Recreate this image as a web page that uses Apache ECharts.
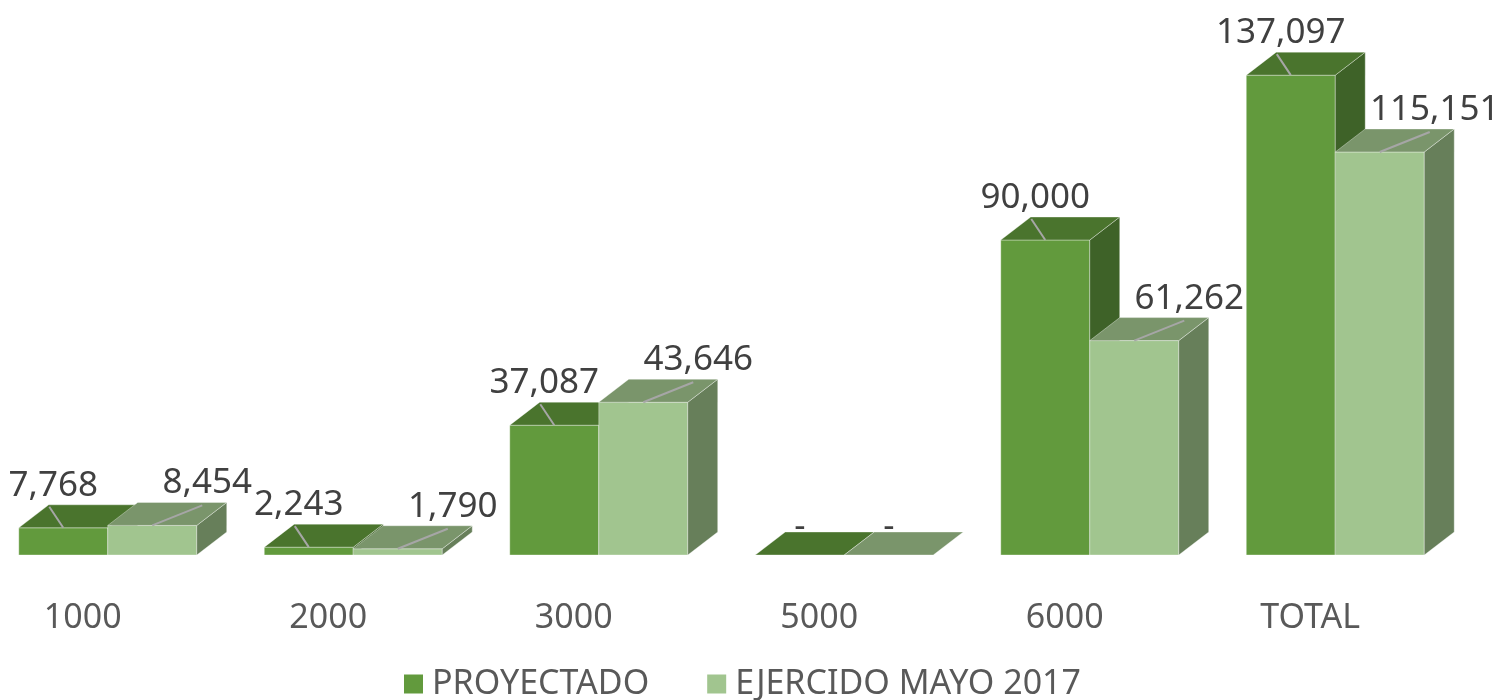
<!DOCTYPE html>
<html>
<head>
<meta charset="utf-8">
<script src="https://cdn.jsdelivr.net/npm/echarts@6/dist/echarts.min.js"></script>
<style>
	html, body{
		margin: 0;
		padding: 0;
		background: #fff;
	}
	#chart_box{
		width: 1509px;
		height: 700px;
	}
</style>
</head>
<body>
<div id="chart_box"></div>
<script type="text/javascript">
var categories = ['1000', '2000', '3000', '5000', '6000', 'TOTAL'];
var proyectado = [7768, 2243, 37087, 0, 90000, 137097];
var ejercido = [8454, 1790, 43646, 0, 61262, 115151];
var series_names = ['PROYECTADO', 'EJERCIDO MAYO 2017'];

// front / top / side of each box
var faces = [
	{ front: '#629A3D', top: '#4A742D', side: '#3E6228' },
	{ front: '#A1C58F', top: '#7A956B', side: '#677F5A' }
];

function fmt(v) {
	return v === 0 ? '-' : v.toLocaleString('en-US');
}

function renderBox(params, api) {
	var s = params.seriesIndex;
	var cat = api.value(0);
	var val = api.value(1);
	var base = api.coord([cat, 0]);
	var top = api.coord([cat, val]);
	var bw = api.size([1, 0])[0];
	var w = bw * 0.3625;
	var dx = bw * 0.122;
	var dy = 23;
	var x0 = base[0] - dx / 2 - w + s * w;
	var x1 = x0 + w;
	var yb = base[1];
	var yt = top[1];
	var c = faces[s];
	var edge = 'rgba(255,255,255,0.35)';
	var children = [];

	if (yb - yt > 0.5) {
		children.push({
			type: 'polygon',
			shape: { points: [[x0, yb], [x1, yb], [x1, yt], [x0, yt]] },
			style: { fill: c.front, stroke: edge, lineWidth: 1 }
		});
		children.push({
			type: 'polygon',
			shape: { points: [[x1, yb], [x1 + dx, yb - dy], [x1 + dx, yt - dy], [x1, yt]] },
			style: { fill: c.side, stroke: edge, lineWidth: 1 }
		});
	}
	children.push({
		type: 'polygon',
		shape: { points: [[x0, yt], [x1, yt], [x1 + dx, yt - dy], [x0 + dx, yt - dy]] },
		style: { fill: c.top, stroke: edge, lineWidth: 1 }
	});

	var fc = (x0 + x1) / 2;
	var tx, ty;
	if (val === 0) {
		tx = fc; ty = yt - 28;
	} else if (s === 0) {
		children.push({
			type: 'line',
			shape: { x1: fc, y1: yt, x2: fc - 14, y2: yt - 21 },
			style: { stroke: '#A6A6A6', lineWidth: 2 }
		});
		tx = fc - 10; ty = yt - 42;
	} else {
		children.push({
			type: 'line',
			shape: { x1: fc, y1: yt, x2: fc + 50, y2: yt - 20 },
			style: { stroke: '#A6A6A6', lineWidth: 2 }
		});
		tx = fc + 55; ty = yt - 42;
	}
	children.push({
		type: 'text',
		z2: 10,
		style: {
			text: fmt(val),
			x: tx,
			y: ty,
			fill: '#404040',
			fontSize: 35,
			fontFamily: 'Noto Sans',
			align: 'center',
			verticalAlign: 'middle'
		}
	});

	return { type: 'group', children: children };
}

var myChart = echarts.init(document.getElementById('chart_box'));

var option = {
	animation: false,
	grid: {
		left: 0,
		right: 36,
		top: 30,
		bottom: 145,
		outerBoundsMode: 'none'
	},
	legend: {
		left: 404,
		top: 667,
		padding: 0,
		icon: 'rect',
		itemWidth: 19,
		itemHeight: 19,
		itemGap: 58,
		textStyle: {
			color: '#595959',
			fontSize: 34,
			fontFamily: 'Noto Sans',
			padding: [0, 0, 0, 4]
		},
		data: series_names
	},
	xAxis: {
		type: 'category',
		data: categories,
		axisLine: { show: false },
		axisTick: { show: false },
		axisLabel: {
			color: '#595959',
			fontSize: 34,
			fontFamily: 'Noto Sans',
			margin: 46,
			padding: [0, 80, 0, 0]
		}
	},
	yAxis: {
		type: 'value',
		min: 0,
		max: 150000,
		show: false,
		splitLine: { show: false }
	},
	series: [
		{
			name: series_names[0],
			type: 'custom',
			renderItem: renderBox,
			itemStyle: { color: faces[0].front },
			encode: { x: 0, y: 1 },
			data: proyectado.map(function(v, i) { return [i, v]; })
		},
		{
			name: series_names[1],
			type: 'custom',
			renderItem: renderBox,
			itemStyle: { color: faces[1].front },
			encode: { x: 0, y: 1 },
			data: ejercido.map(function(v, i) { return [i, v]; })
		}
	]
};
myChart.setOption(option);
</script>
</body>
</html>
